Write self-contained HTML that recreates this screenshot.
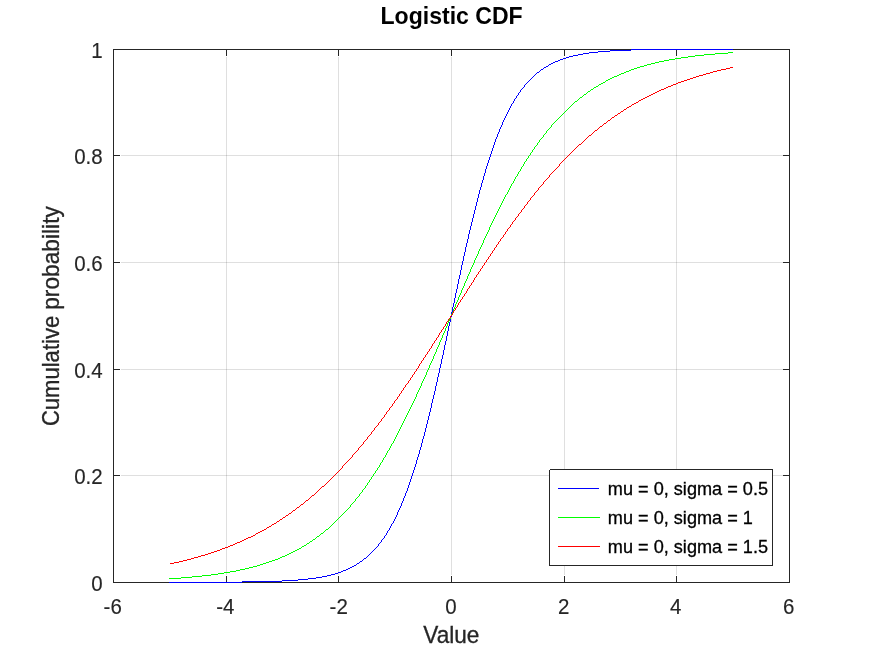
<!DOCTYPE html>
<html><head><meta charset="utf-8"><title>Logistic CDF</title>
<style>
html,body{margin:0;padding:0;background:#fff;}
body{width:872px;height:654px;overflow:hidden;}
svg{display:block;font-family:"Liberation Sans",sans-serif;}
</style></head><body>
<svg width="872" height="654" viewBox="0 0 872 654">
<rect x="0" y="0" width="872" height="654" fill="#fff"/>
<g shape-rendering="crispEdges" stroke="#262626" stroke-opacity="0.15" stroke-width="1">
<line x1="226.5" y1="57" x2="226.5" y2="575"/>
<line x1="338.5" y1="57" x2="338.5" y2="575"/>
<line x1="451.5" y1="57" x2="451.5" y2="575"/>
<line x1="564.5" y1="57" x2="564.5" y2="575"/>
<line x1="676.5" y1="57" x2="676.5" y2="575"/>
<line x1="121" y1="475.5" x2="783" y2="475.5"/>
<line x1="121" y1="369.5" x2="783" y2="369.5"/>
<line x1="121" y1="262.5" x2="783" y2="262.5"/>
<line x1="121" y1="155.5" x2="783" y2="155.5"/>
</g>
<g shape-rendering="crispEdges" stroke="#262626" stroke-width="1" fill="none">
<rect x="113.5" y="49.5" width="676" height="533"/>
<line x1="226.5" y1="583" x2="226.5" y2="576"/>
<line x1="226.5" y1="49" x2="226.5" y2="56"/>
<line x1="338.5" y1="583" x2="338.5" y2="576"/>
<line x1="338.5" y1="49" x2="338.5" y2="56"/>
<line x1="451.5" y1="583" x2="451.5" y2="576"/>
<line x1="451.5" y1="49" x2="451.5" y2="56"/>
<line x1="564.5" y1="583" x2="564.5" y2="576"/>
<line x1="564.5" y1="49" x2="564.5" y2="56"/>
<line x1="676.5" y1="583" x2="676.5" y2="576"/>
<line x1="676.5" y1="49" x2="676.5" y2="56"/>
<line x1="113" y1="475.5" x2="120" y2="475.5"/>
<line x1="790" y1="475.5" x2="783" y2="475.5"/>
<line x1="113" y1="369.5" x2="120" y2="369.5"/>
<line x1="790" y1="369.5" x2="783" y2="369.5"/>
<line x1="113" y1="262.5" x2="120" y2="262.5"/>
<line x1="790" y1="262.5" x2="783" y2="262.5"/>
<line x1="113" y1="155.5" x2="120" y2="155.5"/>
<line x1="790" y1="155.5" x2="783" y2="155.5"/>
</g>
<g shape-rendering="crispEdges" fill="none" stroke-width="1">
<path stroke="#0000ff" d="M378.5 544v2M381.5 540v2M384.5 536v2M386.5 533v2M387.5 531v2M389.5 528v2M390.5 526v2M391.5 524v2M393.5 521v2M394.5 519v2M395.5 517v2M396.5 515v2M397.5 512v3M398.5 510v2M399.5 508v2M400.5 506v2M401.5 503v3M402.5 501v2M403.5 498v3M404.5 496v2M405.5 493v3M406.5 491v2M407.5 488v3M408.5 485v3M409.5 482v3M410.5 479v3M411.5 476v3M412.5 473v3M413.5 470v3M414.5 467v3M415.5 464v3M416.5 460v4M417.5 457v3M418.5 454v3M419.5 450v4M420.5 447v3M421.5 443v4M422.5 439v4M423.5 436v3M424.5 432v4M425.5 428v4M426.5 424v4M427.5 420v4M428.5 416v4M429.5 412v4M430.5 408v4M431.5 403v5M432.5 399v4M433.5 395v4M434.5 391v4M435.5 386v5M436.5 382v4M437.5 377v5M438.5 373v4M439.5 368v5M440.5 364v4M441.5 359v5M442.5 355v4M443.5 350v5M444.5 345v5M445.5 341v4M446.5 336v5M447.5 331v5M448.5 326v5M449.5 322v4M450.5 317v5M451.5 312v5M452.5 307v5M453.5 303v4M454.5 298v5M455.5 293v5M456.5 289v4M457.5 284v5M458.5 279v5M459.5 275v4M460.5 270v5M461.5 265v5M462.5 261v4M463.5 256v5M464.5 252v4M465.5 247v5M466.5 243v4M467.5 239v4M468.5 234v5M469.5 230v4M470.5 226v4M471.5 222v4M472.5 218v4M473.5 214v4M474.5 210v4M475.5 206v4M476.5 202v4M477.5 198v4M478.5 194v4M479.5 190v4M480.5 187v3M481.5 183v4M482.5 180v3M483.5 176v4M484.5 173v3M485.5 169v4M486.5 166v3M487.5 163v3M488.5 160v3M489.5 157v3M490.5 154v3M491.5 151v3M492.5 148v3M493.5 145v3M494.5 142v3M495.5 139v3M496.5 137v2M497.5 134v3M498.5 132v2M499.5 129v3M500.5 127v2M501.5 125v2M502.5 122v3M503.5 120v2M504.5 118v2M505.5 116v2M506.5 114v2M507.5 112v2M508.5 110v2M509.5 108v2M510.5 106v2M511.5 104v2M513.5 101v2M514.5 99v2M516.5 96v2M518.5 93v2M520.5 90v2M524.5 85v2M631 49.5h102M610 50.5h21M598 51.5h12M589 52.5h9M583 53.5h6M578 54.5h5M573 55.5h5M569 56.5h4M566 57.5h3M563 58.5h3M560 59.5h3M558 60.5h2M555 61.5h3M553 62.5h2M551 63.5h2M549 64.5h2M548 65.5h1M546 66.5h2M544 67.5h2M543 68.5h1M541 69.5h2M540 70.5h1M539 71.5h1M537 72.5h2M536 73.5h1M535 74.5h1M534 75.5h1M533 76.5h1M532 77.5h1M531 78.5h1M530 79.5h1M529 80.5h1M528 81.5h1M527 82.5h1M526 83.5h1M525 84.5h1M523 87.5h1M522 88.5h1M521 89.5h1M519 92.5h1M517 95.5h1M515 98.5h1M512 103.5h1M392 523.5h1M388 530.5h1M385 535.5h1M383 538.5h1M382 539.5h1M380 542.5h1M379 543.5h1M377 546.5h1M376 547.5h1M375 548.5h1M374 549.5h1M373 550.5h1M372 551.5h1M371 552.5h1M370 553.5h1M369 554.5h1M368 555.5h1M367 556.5h1M366 557.5h1M364 558.5h2M363 559.5h1M362 560.5h1M360 561.5h2M359 562.5h1M357 563.5h2M356 564.5h1M354 565.5h2M352 566.5h2M350 567.5h2M348 568.5h2M346 569.5h2M343 570.5h3M341 571.5h2M338 572.5h3M335 573.5h3M331 574.5h4M327 575.5h4M322 576.5h5M316 577.5h6M308 578.5h8M298 579.5h10M282 580.5h16M242 581.5h40M169 582.5h73"/>
<path stroke="#00ff00" d="M350.5 505v2M355.5 499v2M359.5 494v2M362.5 490v2M365.5 486v2M367.5 483v2M369.5 480v2M371.5 477v2M373.5 474v2M375.5 471v2M377.5 468v2M379.5 465v2M380.5 463v2M382.5 460v2M383.5 458v2M385.5 455v2M386.5 453v2M387.5 451v2M389.5 448v2M390.5 446v2M391.5 444v2M393.5 441v2M394.5 439v2M395.5 437v2M396.5 435v2M397.5 433v2M398.5 431v2M399.5 429v2M400.5 427v2M401.5 425v2M402.5 423v2M403.5 421v2M404.5 419v2M405.5 417v2M406.5 415v2M407.5 413v2M408.5 411v2M409.5 409v2M410.5 407v2M411.5 405v2M412.5 403v2M413.5 401v2M414.5 399v2M415.5 397v2M416.5 394v3M417.5 392v2M418.5 390v2M419.5 388v2M420.5 386v2M421.5 383v3M422.5 381v2M423.5 379v2M424.5 377v2M425.5 375v2M426.5 372v3M427.5 370v2M428.5 368v2M429.5 365v3M430.5 363v2M431.5 361v2M432.5 359v2M433.5 356v3M434.5 354v2M435.5 352v2M436.5 349v3M437.5 347v2M438.5 345v2M439.5 342v3M440.5 340v2M441.5 338v2M442.5 335v3M443.5 333v2M444.5 331v2M445.5 328v3M446.5 326v2M447.5 323v3M448.5 321v2M449.5 319v2M450.5 316v3M451.5 314v2M452.5 312v2M453.5 309v3M454.5 307v2M455.5 304v3M456.5 302v2M457.5 300v2M458.5 297v3M459.5 295v2M460.5 293v2M461.5 290v3M462.5 288v2M463.5 286v2M464.5 283v3M465.5 281v2M466.5 279v2M467.5 276v3M468.5 274v2M469.5 272v2M470.5 269v3M471.5 267v2M472.5 265v2M473.5 263v2M474.5 260v3M475.5 258v2M476.5 256v2M477.5 254v2M478.5 251v3M479.5 249v2M480.5 247v2M481.5 245v2M482.5 243v2M483.5 240v3M484.5 238v2M485.5 236v2M486.5 234v2M487.5 232v2M488.5 230v2M489.5 227v3M490.5 225v2M491.5 223v2M492.5 221v2M493.5 219v2M494.5 217v2M495.5 215v2M496.5 213v2M497.5 211v2M498.5 209v2M499.5 207v2M500.5 205v2M501.5 203v2M502.5 201v2M503.5 199v2M504.5 197v2M505.5 195v2M507.5 192v2M508.5 190v2M509.5 188v2M510.5 186v2M511.5 184v2M513.5 181v2M514.5 179v2M515.5 177v2M517.5 174v2M518.5 172v2M520.5 169v2M521.5 167v2M523.5 164v2M524.5 162v2M526.5 159v2M528.5 156v2M530.5 153v2M532.5 150v2M534.5 147v2M537.5 143v2M539.5 140v2M543.5 135v2M546.5 131v2M551.5 125v2M728 52.5h5M715 53.5h13M704 54.5h11M695 55.5h9M688 56.5h7M681 57.5h7M675 58.5h6M669 59.5h6M664 60.5h5M659 61.5h5M655 62.5h4M651 63.5h4M647 64.5h4M644 65.5h3M640 66.5h4M637 67.5h3M634 68.5h3M631 69.5h3M629 70.5h2M626 71.5h3M624 72.5h2M621 73.5h3M619 74.5h2M617 75.5h2M614 76.5h3M612 77.5h2M610 78.5h2M608 79.5h2M606 80.5h2M605 81.5h1M603 82.5h2M601 83.5h2M599 84.5h2M598 85.5h1M596 86.5h2M594 87.5h2M593 88.5h1M591 89.5h2M590 90.5h1M588 91.5h2M587 92.5h1M586 93.5h1M584 94.5h2M583 95.5h1M582 96.5h1M580 97.5h2M579 98.5h1M578 99.5h1M577 100.5h1M575 101.5h2M574 102.5h1M573 103.5h1M572 104.5h1M571 105.5h1M570 106.5h1M569 107.5h1M568 108.5h1M567 109.5h1M566 110.5h1M565 111.5h1M564 112.5h1M563 113.5h1M562 114.5h1M561 115.5h1M560 116.5h1M559 117.5h1M558 118.5h1M557 119.5h1M556 120.5h1M555 121.5h1M554 122.5h1M553 123.5h1M552 124.5h1M550 127.5h1M549 128.5h1M548 129.5h1M547 130.5h1M545 133.5h1M544 134.5h1M542 137.5h1M541 138.5h1M540 139.5h1M538 142.5h1M536 145.5h1M535 146.5h1M533 149.5h1M531 152.5h1M529 155.5h1M527 158.5h1M525 161.5h1M522 166.5h1M519 171.5h1M516 176.5h1M512 183.5h1M506 194.5h1M392 443.5h1M388 450.5h1M384 457.5h1M381 462.5h1M378 467.5h1M376 470.5h1M374 473.5h1M372 476.5h1M370 479.5h1M368 482.5h1M366 485.5h1M364 488.5h1M363 489.5h1M361 492.5h1M360 493.5h1M358 496.5h1M357 497.5h1M356 498.5h1M354 501.5h1M353 502.5h1M352 503.5h1M351 504.5h1M349 507.5h1M348 508.5h1M347 509.5h1M346 510.5h1M345 511.5h1M344 512.5h1M343 513.5h1M342 514.5h1M341 515.5h1M340 516.5h1M339 517.5h1M338 518.5h1M337 519.5h1M336 520.5h1M335 521.5h1M334 522.5h1M333 523.5h1M332 524.5h1M331 525.5h1M330 526.5h1M329 527.5h1M328 528.5h1M326 529.5h2M325 530.5h1M324 531.5h1M323 532.5h1M321 533.5h2M320 534.5h1M319 535.5h1M317 536.5h2M316 537.5h1M315 538.5h1M313 539.5h2M312 540.5h1M310 541.5h2M309 542.5h1M307 543.5h2M306 544.5h1M304 545.5h2M302 546.5h2M301 547.5h1M299 548.5h2M297 549.5h2M295 550.5h2M293 551.5h2M291 552.5h2M289 553.5h2M287 554.5h2M285 555.5h2M282 556.5h3M280 557.5h2M278 558.5h2M275 559.5h3M272 560.5h3M269 561.5h3M266 562.5h3M263 563.5h3M260 564.5h3M257 565.5h3M253 566.5h4M249 567.5h4M245 568.5h4M240 569.5h5M236 570.5h4M230 571.5h6M224 572.5h6M218 573.5h6M211 574.5h7M202 575.5h9M192 576.5h10M181 577.5h11M169 578.5h12"/>
<path stroke="#ff0000" d="M342.5 466v2M352.5 455v2M358.5 448v2M363.5 442v2M367.5 437v2M371.5 432v2M374.5 428v2M378.5 423v2M381.5 419v2M384.5 415v2M386.5 412v2M389.5 408v2M392.5 404v2M394.5 401v2M397.5 397v2M399.5 394v2M401.5 391v2M403.5 388v2M405.5 385v2M408.5 381v2M410.5 378v2M412.5 375v2M414.5 372v2M416.5 369v2M418.5 366v2M419.5 364v2M421.5 361v2M423.5 358v2M425.5 355v2M427.5 352v2M429.5 349v2M431.5 346v2M432.5 344v2M434.5 341v2M436.5 338v2M438.5 335v2M439.5 333v2M441.5 330v2M443.5 327v2M445.5 324v2M446.5 322v2M448.5 319v2M450.5 316v2M452.5 313v2M453.5 311v2M455.5 308v2M457.5 305v2M458.5 303v2M460.5 300v2M462.5 297v2M464.5 294v2M466.5 291v2M467.5 289v2M469.5 286v2M471.5 283v2M473.5 280v2M474.5 278v2M476.5 275v2M478.5 272v2M480.5 269v2M482.5 266v2M484.5 263v2M486.5 260v2M488.5 257v2M490.5 254v2M492.5 251v2M494.5 248v2M496.5 245v2M498.5 242v2M500.5 239v2M503.5 235v2M505.5 232v2M507.5 229v2M510.5 225v2M512.5 222v2M515.5 218v2M518.5 214v2M521.5 210v2M524.5 206v2M527.5 202v2M530.5 198v2M534.5 193v2M538.5 188v2M543.5 182v2M549.5 175v2M559.5 164v2M730 67.5h3M726 68.5h4M721 69.5h5M717 70.5h4M713 71.5h4M710 72.5h3M706 73.5h4M703 74.5h3M699 75.5h4M696 76.5h3M693 77.5h3M690 78.5h3M687 79.5h3M684 80.5h3M681 81.5h3M678 82.5h3M676 83.5h2M673 84.5h3M671 85.5h2M668 86.5h3M666 87.5h2M664 88.5h2M661 89.5h3M659 90.5h2M657 91.5h2M655 92.5h2M653 93.5h2M651 94.5h2M649 95.5h2M647 96.5h2M645 97.5h2M643 98.5h2M641 99.5h2M639 100.5h2M638 101.5h1M636 102.5h2M634 103.5h2M632 104.5h2M631 105.5h1M629 106.5h2M627 107.5h2M626 108.5h1M624 109.5h2M623 110.5h1M621 111.5h2M620 112.5h1M618 113.5h2M617 114.5h1M615 115.5h2M614 116.5h1M612 117.5h2M611 118.5h1M610 119.5h1M608 120.5h2M607 121.5h1M606 122.5h1M604 123.5h2M603 124.5h1M602 125.5h1M600 126.5h2M599 127.5h1M598 128.5h1M597 129.5h1M595 130.5h2M594 131.5h1M593 132.5h1M592 133.5h1M591 134.5h1M589 135.5h2M588 136.5h1M587 137.5h1M586 138.5h1M585 139.5h1M584 140.5h1M583 141.5h1M582 142.5h1M581 143.5h1M579 144.5h2M578 145.5h1M577 146.5h1M576 147.5h1M575 148.5h1M574 149.5h1M573 150.5h1M572 151.5h1M571 152.5h1M570 153.5h1M569 154.5h1M568 155.5h1M567 156.5h1M566 157.5h1M565 158.5h1M564 159.5h1M563 160.5h1M562 161.5h1M561 162.5h1M560 163.5h1M558 166.5h1M557 167.5h1M556 168.5h1M555 169.5h1M554 170.5h1M553 171.5h1M552 172.5h1M551 173.5h1M550 174.5h1M548 177.5h1M547 178.5h1M546 179.5h1M545 180.5h1M544 181.5h1M542 184.5h1M541 185.5h1M540 186.5h1M539 187.5h1M537 190.5h1M536 191.5h1M535 192.5h1M533 195.5h1M532 196.5h1M531 197.5h1M529 200.5h1M528 201.5h1M526 204.5h1M525 205.5h1M523 208.5h1M522 209.5h1M520 212.5h1M519 213.5h1M517 216.5h1M516 217.5h1M514 220.5h1M513 221.5h1M511 224.5h1M509 227.5h1M508 228.5h1M506 231.5h1M504 234.5h1M502 237.5h1M501 238.5h1M499 241.5h1M497 244.5h1M495 247.5h1M493 250.5h1M491 253.5h1M489 256.5h1M487 259.5h1M485 262.5h1M483 265.5h1M481 268.5h1M479 271.5h1M477 274.5h1M475 277.5h1M472 282.5h1M470 285.5h1M468 288.5h1M465 293.5h1M463 296.5h1M461 299.5h1M459 302.5h1M456 307.5h1M454 310.5h1M451 315.5h1M449 318.5h1M447 321.5h1M444 326.5h1M442 329.5h1M440 332.5h1M437 337.5h1M435 340.5h1M433 343.5h1M430 348.5h1M428 351.5h1M426 354.5h1M424 357.5h1M422 360.5h1M420 363.5h1M417 368.5h1M415 371.5h1M413 374.5h1M411 377.5h1M409 380.5h1M407 383.5h1M406 384.5h1M404 387.5h1M402 390.5h1M400 393.5h1M398 396.5h1M396 399.5h1M395 400.5h1M393 403.5h1M391 406.5h1M390 407.5h1M388 410.5h1M387 411.5h1M385 414.5h1M383 417.5h1M382 418.5h1M380 421.5h1M379 422.5h1M377 425.5h1M376 426.5h1M375 427.5h1M373 430.5h1M372 431.5h1M370 434.5h1M369 435.5h1M368 436.5h1M366 439.5h1M365 440.5h1M364 441.5h1M362 444.5h1M361 445.5h1M360 446.5h1M359 447.5h1M357 450.5h1M356 451.5h1M355 452.5h1M354 453.5h1M353 454.5h1M351 457.5h1M350 458.5h1M349 459.5h1M348 460.5h1M347 461.5h1M346 462.5h1M345 463.5h1M344 464.5h1M343 465.5h1M341 468.5h1M340 469.5h1M339 470.5h1M338 471.5h1M337 472.5h1M336 473.5h1M335 474.5h1M334 475.5h1M333 476.5h1M332 477.5h1M331 478.5h1M330 479.5h1M329 480.5h1M328 481.5h1M327 482.5h1M326 483.5h1M325 484.5h1M324 485.5h1M322 486.5h2M321 487.5h1M320 488.5h1M319 489.5h1M318 490.5h1M317 491.5h1M316 492.5h1M315 493.5h1M314 494.5h1M312 495.5h2M311 496.5h1M310 497.5h1M309 498.5h1M308 499.5h1M306 500.5h2M305 501.5h1M304 502.5h1M303 503.5h1M301 504.5h2M300 505.5h1M299 506.5h1M297 507.5h2M296 508.5h1M295 509.5h1M293 510.5h2M292 511.5h1M291 512.5h1M289 513.5h2M288 514.5h1M286 515.5h2M285 516.5h1M283 517.5h2M282 518.5h1M280 519.5h2M279 520.5h1M277 521.5h2M276 522.5h1M274 523.5h2M272 524.5h2M271 525.5h1M269 526.5h2M267 527.5h2M266 528.5h1M264 529.5h2M262 530.5h2M260 531.5h2M258 532.5h2M256 533.5h2M255 534.5h1M253 535.5h2M251 536.5h2M248 537.5h3M246 538.5h2M244 539.5h2M242 540.5h2M240 541.5h2M237 542.5h3M235 543.5h2M233 544.5h2M230 545.5h3M228 546.5h2M225 547.5h3M222 548.5h3M220 549.5h2M217 550.5h3M214 551.5h3M211 552.5h3M208 553.5h3M205 554.5h3M201 555.5h4M198 556.5h3M194 557.5h4M191 558.5h3M187 559.5h4M183 560.5h4M179 561.5h4M174 562.5h5M170 563.5h4"/>
</g>
<text transform="translate(112.70,613.90) scale(0.9850,1.0400)" text-anchor="middle" font-size="20.80px" fill="#262626" stroke="#262626" stroke-width="0.15">-6</text>
<text transform="translate(225.40,613.90) scale(0.9850,1.0400)" text-anchor="middle" font-size="20.80px" fill="#262626" stroke="#262626" stroke-width="0.15">-4</text>
<text transform="translate(338.70,613.90) scale(0.9850,1.0400)" text-anchor="middle" font-size="20.80px" fill="#262626" stroke="#262626" stroke-width="0.15">-2</text>
<text transform="translate(450.90,613.90) scale(0.9850,1.0400)" text-anchor="middle" font-size="20.80px" fill="#262626" stroke="#262626" stroke-width="0.15">0</text>
<text transform="translate(563.70,613.90) scale(0.9850,1.0400)" text-anchor="middle" font-size="20.80px" fill="#262626" stroke="#262626" stroke-width="0.15">2</text>
<text transform="translate(675.70,613.90) scale(0.9850,1.0400)" text-anchor="middle" font-size="20.80px" fill="#262626" stroke="#262626" stroke-width="0.15">4</text>
<text transform="translate(788.70,613.90) scale(0.9850,1.0400)" text-anchor="middle" font-size="20.80px" fill="#262626" stroke="#262626" stroke-width="0.15">6</text>
<text transform="translate(102.70,590.90) scale(0.9850,1.0400)" text-anchor="end" font-size="20.80px" fill="#262626" stroke="#262626" stroke-width="0.15">0</text>
<text transform="translate(102.70,483.90) scale(0.9850,1.0400)" text-anchor="end" font-size="20.80px" fill="#262626" stroke="#262626" stroke-width="0.15">0.2</text>
<text transform="translate(102.70,377.90) scale(0.9850,1.0400)" text-anchor="end" font-size="20.80px" fill="#262626" stroke="#262626" stroke-width="0.15">0.4</text>
<text transform="translate(102.70,270.90) scale(0.9850,1.0400)" text-anchor="end" font-size="20.80px" fill="#262626" stroke="#262626" stroke-width="0.15">0.6</text>
<text transform="translate(102.70,163.90) scale(0.9850,1.0400)" text-anchor="end" font-size="20.80px" fill="#262626" stroke="#262626" stroke-width="0.15">0.8</text>
<text transform="translate(102.70,57.90) scale(0.9850,1.0400)" text-anchor="end" font-size="20.80px" fill="#262626" stroke="#262626" stroke-width="0.15">1</text>
<text transform="translate(451.60,24.00) scale(1.0080,1.0500)" text-anchor="middle" font-size="22.90px" fill="#000" stroke="#000" stroke-width="0.00" font-weight="bold">Logistic CDF</text>
<text transform="translate(451.30,643.00) scale(0.9870,1.0500)" text-anchor="middle" font-size="22.90px" fill="#262626" stroke="#262626" stroke-width="0.30">Value</text>
<text transform="translate(59.20,426.10) rotate(-90) scale(0.9635,1.0500)" text-anchor="start" font-size="22.90px" fill="#262626" stroke="#262626" stroke-width="0.30">Cumulative</text>
<text transform="translate(59.20,309.80) rotate(-90) scale(0.9935,1.0500)" text-anchor="start" font-size="22.90px" fill="#262626" stroke="#262626" stroke-width="0.30">probability</text>
<g shape-rendering="crispEdges"><rect x="549" y="469" width="224" height="97" fill="#fff"/><path d="M550 469.5H773M772.5 469V566M549 565.5H773M549.5 470V566" fill="none" stroke="#262626" stroke-width="1"/>
<line x1="558" y1="488.5" x2="599" y2="488.5" stroke="#0000ff" stroke-width="1"/>
<line x1="558" y1="517.5" x2="600" y2="517.5" stroke="#00ff00" stroke-width="1"/>
<line x1="558" y1="546.5" x2="600" y2="546.5" stroke="#ff0000" stroke-width="1"/>
</g>
<text transform="translate(607.80,494.80) scale(0.9670,1.0000)" text-anchor="start" font-size="18.75px" fill="#000" stroke="#000" stroke-width="0.30">mu = 0, sigma = 0.5</text>
<text transform="translate(607.80,523.75) scale(0.9670,1.0000)" text-anchor="start" font-size="18.75px" fill="#000" stroke="#000" stroke-width="0.30">mu = 0, sigma = 1</text>
<text transform="translate(607.80,552.70) scale(0.9670,1.0000)" text-anchor="start" font-size="18.75px" fill="#000" stroke="#000" stroke-width="0.30">mu = 0, sigma = 1.5</text>
</svg></body></html>
